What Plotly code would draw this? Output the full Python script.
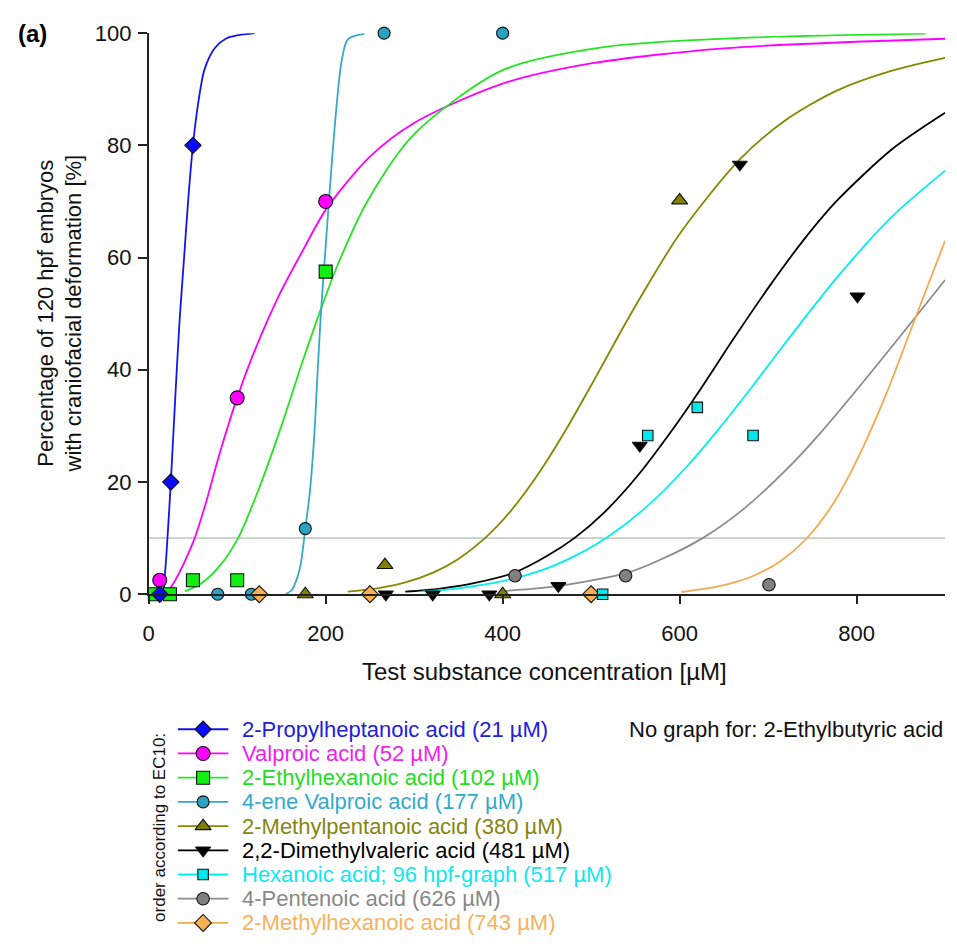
import plotly.graph_objects as go

# ---------------- data ----------------
names = [
    "2-Propylheptanoic acid (21 µM)",
    "Valproic acid (52 µM)",
    "2-Ethylhexanoic acid (102 µM)",
    "4-ene Valproic acid (177 µM)",
    "2-Methylpentanoic acid (380 µM)",
    "2,2-Dimethylvaleric acid (481 µM)",
    "Hexanoic acid; 96 hpf-graph (517 µM)",
    "4-Pentenoic acid (626 µM)",
    "2-Methylhexanoic acid (743 µM)",
]

# measured points
pts_x = [
    [12.5, 25, 50],
    [12.5, 100, 200],
    [7, 24, 50, 100, 200],
    [78, 116, 177, 266, 400],
    [177, 267, 400, 600],
    [268, 321, 385, 463, 555, 668, 801],
    [513, 564, 620, 683],
    [414, 539, 701],
    [125, 250, 500],
]
pts_y = [
    [0, 20, 80],
    [2.5, 35, 70],
    [0, 0, 2.5, 2.5, 57.5],
    [0, 0, 11.7, 100, 100],
    [0, 5.2, 0, 70.2],
    [0, 0, 0, 1.5, 26.5, 76.6, 53.1],
    [0, 28.3, 33.3, 28.3],
    [3.3, 3.3, 1.7],
    [0, 0, 0],
]

# fitted curves
curve_x = [
    [16.5, 20, 25, 30, 35, 40, 45, 50, 55, 63, 75, 88, 100, 120],
    [22, 30, 40, 52, 65, 80, 100, 120, 148, 175, 200, 250, 300, 400, 500, 650, 900],
    [41, 60, 80, 101, 125, 150, 175, 195, 213, 247, 300, 400, 514, 664, 878],
    [155, 162, 168, 172, 177, 182, 187, 191, 195, 200, 206, 212, 218, 225, 244],
    [225, 260, 290, 322, 350, 380, 410, 441, 470, 501, 530, 552, 600, 668, 720, 777, 840, 900],
    [290, 330, 370, 414, 450, 481, 515, 553, 590, 623, 660, 702, 740, 777, 840, 900],
    [310, 350, 400, 450, 490, 517, 560, 609, 645, 683, 720, 777, 840, 900],
    [400, 450, 500, 539, 580, 626, 670, 720, 760, 800, 850, 900],
    [602, 625, 645, 665, 683, 713, 745, 775, 800, 833, 867, 900],
]
curve_y = [
    [0, 7, 20, 35, 49, 60, 71, 80, 86.5, 93.5, 97.4, 99.1, 99.6, 100],
    [0.5, 2.5, 5.6, 10, 16.5, 25, 35, 43.5, 53.5, 61.5, 68.5, 78, 84, 91, 94.6, 97.3, 99],
    [0.5, 2, 5, 10, 19, 30, 42, 51, 58.5, 70, 82, 93.4, 97.5, 99.1, 99.9],
    [0, 0.8, 3, 5.5, 11.7, 18, 28, 40, 51, 62, 75, 86.5, 95, 98.9, 99.9],
    [0.45, 1.1, 2.1, 3.9, 6.3, 10, 15, 21.6, 28.9, 37.5, 45.8, 51.9, 64.2, 77.5, 84.5, 89.7, 93.3, 95.6],
    [0.45, 1.0, 2.05, 3.9, 6.8, 10, 14.6, 21.2, 28.9, 36.4, 45.3, 55.0, 63.1, 70.0, 79.3, 85.8],
    [0.5, 1.06, 2.33, 4.6, 7.5, 10, 15.2, 22.9, 29.6, 37.2, 44.9, 56.3, 67.3, 75.5],
    [0.56, 1.22, 2.43, 3.7, 6.27, 10, 14.9, 22.1, 28.9, 36.4, 46.1, 56.0],
    [0.4, 0.9, 1.45, 2.25, 3.25, 5.8, 10.2, 16.5, 23.8, 35.5, 49.5, 63],
]

EC10_LEVEL = 10
x_ticks = [0, 200, 400, 600, 800]
y_ticks = [0, 20, 40, 60, 80, 100]

# ---------------- styles ----------------
line_colors = ["#1414ee", "#ff00ff", "#22e622", "#36a9c8", "#878700",
               "#000000", "#00f0f0", "#8c8c8c", "#f5a94e"]
fill_colors = ["#0a0aff", "#ff00ff", "#11ee11", "#2aa3c3", "#7f7f00",
               "#000000", "#00e8ee", "#808080", "#f8b052"]
text_colors = ["#2020dd", "#ee22ee", "#22dd22", "#33aacc", "#858510",
               "#000000", "#11e6f0", "#888888", "#f7b260"]
symbols = ["diamond", "circle", "square", "circle", "triangle-up",
           "triangle-down", "square", "circle", "diamond"]
sizes = [12.5, 14, 13, 12, 14, 13, 10.5, 12.5, 13]
marker_order = [3, 8, 7, 5, 6, 4, 2, 1, 0]

FONT = "Arial, Liberation Sans, sans-serif"
W, H = 957, 948

fig = go.Figure()

# curves
for i in range(len(names)):
    fig.add_trace(go.Scatter(
        x=curve_x[i], y=curve_y[i], mode="lines",
        line=dict(color=line_colors[i], width=1.8, shape="spline", smoothing=0.8),
        showlegend=False, hoverinfo="skip", xaxis="x", yaxis="y"))

# points
for i in marker_order:
    fig.add_trace(go.Scatter(
        x=pts_x[i], y=pts_y[i], mode="markers", name=names[i],
        marker=dict(symbol=symbols[i], size=sizes[i], color=fill_colors[i],
                    line=dict(color="#111111", width=1.1)),
        cliponaxis=False, showlegend=False, xaxis="x", yaxis="y"))

# custom legend (own invisible axes)
for i in range(len(names)):
    fig.add_trace(go.Scatter(
        x=[0, 1], y=[i, i], mode="lines",
        line=dict(color=line_colors[i], width=1.8),
        showlegend=False, hoverinfo="skip", xaxis="x2", yaxis="y2"))
    fig.add_trace(go.Scatter(
        x=[0.5], y=[i], mode="markers",
        marker=dict(symbol=symbols[i], size=sizes[i], color=fill_colors[i],
                    line=dict(color="#111111", width=1.1)),
        cliponaxis=False, showlegend=False, hoverinfo="skip", xaxis="x2", yaxis="y2"))
    fig.add_annotation(text=names[i], xref="paper", yref="y2",
                       x=235 / W, y=i, xanchor="left", yanchor="middle",
                       showarrow=False, font=dict(family=FONT, size=22, color=text_colors[i]))

fig.add_hline(y=EC10_LEVEL, line=dict(color="#c3cfc3", width=1.6), layer="below")

axis_common = dict(showgrid=False, zeroline=False, showline=True, linecolor="#222222",
                   linewidth=1.6, ticks="outside", tickcolor="#222222", tickwidth=1.6,
                   tickfont=dict(family=FONT, size=22, color="#111111"))

fig.update_layout(
    width=W, height=H,
    margin=dict(l=0, r=0, t=0, b=0),
    paper_bgcolor="white", plot_bgcolor="white",
    font=dict(family=FONT),
    xaxis=dict(domain=[143.6 / W, 945 / W], range=[0, 900], tickvals=x_ticks,
               ticklen=8, ticklabelstandoff=11, anchor="y", **axis_common),
    yaxis=dict(domain=[1 - 598 / H, 1 - 21.7 / H], range=[0, 100], tickvals=y_ticks,
               ticklen=9, ticklabelstandoff=2, anchor="x", **axis_common),
    xaxis2=dict(domain=[172.7 / W, 224 / W], range=[0, 1], visible=False, anchor="y2"),
    yaxis2=dict(domain=[0, 0.236], range=[8.5, -0.5], visible=False, anchor="x2"),
)

fig.add_annotation(text="<b>(a)</b>", xref="paper", yref="paper", x=10 / W, y=1 - 22 / H,
                   xanchor="left", yanchor="middle", showarrow=False,
                   font=dict(family=FONT, size=24, color="#000000"))
fig.add_annotation(text="Percentage of 120 hpf embryos<br>with craniofacial deformation [%]",
                   xref="paper", yref="paper", x=54 / W, y=1 - 310 / H, textangle=-90,
                   xanchor="center", yanchor="middle", showarrow=False,
                   font=dict(family=FONT, size=22, color="#111111"))
fig.add_annotation(text="Test substance concentration [µM]", xref="paper", yref="paper",
                   x=542 / W, y=1 - 677 / H, xanchor="center", yanchor="middle",
                   showarrow=False, font=dict(family=FONT, size=24, color="#111111"))
fig.add_annotation(text="No graph for: 2-Ethylbutyric acid", xref="paper", yref="paper",
                   x=945 / W, y=1 - 737 / H, xanchor="right", yanchor="middle",
                   showarrow=False, font=dict(family=FONT, size=22, color="#111111"))
fig.add_annotation(text="order according to EC10:", xref="paper", yref="paper",
                   x=155 / W, y=1 - 838 / H, textangle=-90, xanchor="center",
                   yanchor="middle", showarrow=False,
                   font=dict(family=FONT, size=17, color="#111111"))

fig.write_html(
    "out.html",
    config={"displayModeBar": False},
    post_script=("document.body.style.margin='0px';"
                 "document.body.style.overflow='hidden';"
                 "document.documentElement.style.overflow='hidden';"),
)
